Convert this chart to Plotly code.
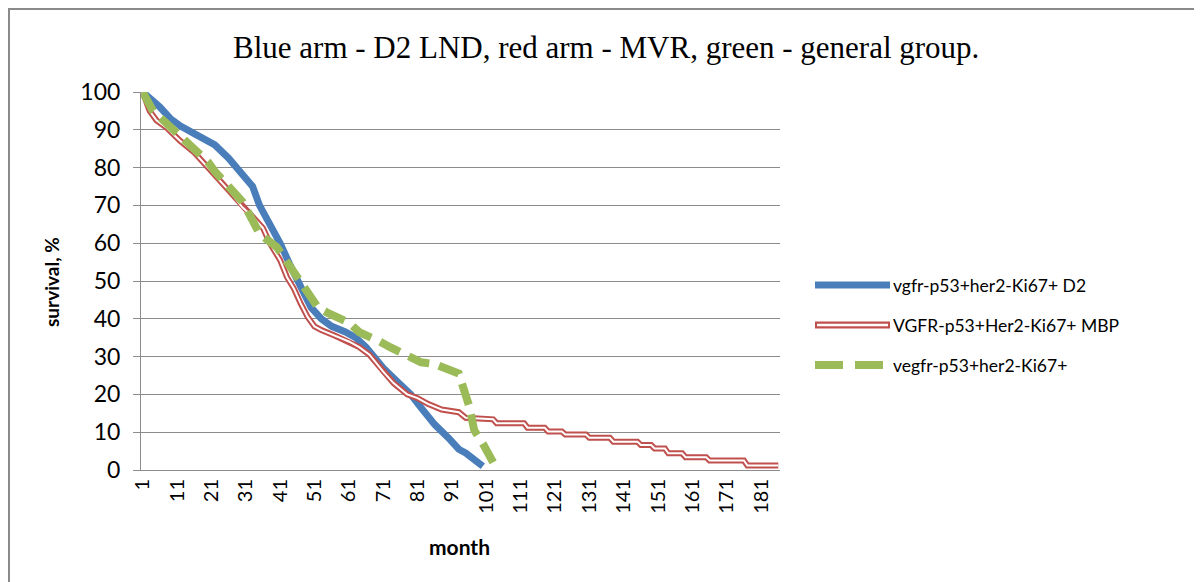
import plotly.graph_objects as go

# ---------------- data ----------------
blue_month = [1, 3, 6, 9, 12, 16, 19, 22, 26, 29, 31, 33, 35, 38, 41, 44, 46, 48, 50, 53,
              56, 60, 63, 66, 71, 75, 79, 82, 86, 90, 93, 95, 100]
blue_surv = [100, 98.5, 96, 93, 91, 89, 87.5, 86, 82.5, 79, 77, 75, 70, 65, 60, 54, 50, 46, 43, 40,
             38, 36.5, 35, 32.5, 27, 23.5, 20, 16.5, 12, 8.5, 5.5, 4.5, 1]

red_month = [1, 3, 5, 8, 12, 16, 20, 24, 27, 30, 33, 36, 38, 41, 43, 45, 47, 49, 51, 53,
             57, 61, 64, 67, 71, 74, 78, 81, 84, 88, 93, 95, 103, 104, 112, 113, 118, 119,
             123, 124, 130, 131, 137, 138, 145, 146, 149, 150, 153, 154, 158, 159, 165, 166,
             176, 177, 186]
red_surv = [100, 95, 92.5, 90.5, 87, 84, 80, 76, 73, 69.5, 67, 64, 60, 55.5, 51, 48, 44, 40.5, 38, 37,
            35.5, 34, 32.5, 30.5, 26, 23, 20, 19, 17.5, 16, 15.3, 13.8, 13.4, 12.4, 12.4, 11.2, 11.2, 10.2,
            10.2, 9.4, 9.4, 8.5, 8.5, 7.5, 7.5, 6.6, 6.6, 5.7, 5.7, 4.4, 4.4, 3.4, 3.4, 2.5,
            2.5, 1.2, 1.2]

green_month = [1, 4, 7, 12, 15, 20, 22, 27, 30, 33, 35, 40, 42, 46, 49, 52, 55, 58, 61, 64,
               67, 70, 73, 76, 79, 82, 86, 89, 93, 96, 97.5, 100, 103]
green_surv = [100, 95, 92.5, 88.5, 86, 81.5, 79, 74, 71, 66, 62.5, 59, 56, 51, 47, 43, 41.5, 40.5, 39, 36.5,
              35.5, 34, 32.5, 31, 29.5, 28.5, 28, 27, 25.5, 17, 10.5, 7, 2]

series_names = ["vgfr-p53+her2-Ki67+ D2", "VGFR-p53+Her2-Ki67+ MBP", "vegfr-p53+her2-Ki67+"]
x_tick_vals = list(range(1, 187, 10))
x_tick_text = [str(v) for v in x_tick_vals]
y_tick_vals = list(range(0, 101, 10))

title_text = "Blue arm - D2 LND, red arm - MVR, green - general group."
x_title = "month"
y_title = "survival, %"

# ---------------- styles ----------------
BLUE = "#4A7EBB"
RED = "#C0504D"
GREEN = "#9BBB59"
GRID = "#8C8C8C"
SANS = "Lato, 'Liberation Sans', sans-serif"

OFF = 8  # page body margin of the browser
W, H = 1202 - OFF, 582 - OFF
L, R, T, B = 141, 780, 92, 470  # plot area in screen pixels


def px(x):
    return (x - L) / (R - L)


def py(y):
    return (B - y) / (B - T)


fig = go.Figure()
fig.add_trace(go.Scatter(x=blue_month, y=blue_surv, mode="lines", name=series_names[0],
                         line=dict(color=BLUE, width=7), showlegend=False))
fig.add_trace(go.Scatter(x=red_month, y=red_surv, mode="lines", name=series_names[1],
                         line=dict(color=RED, width=6), showlegend=False))
fig.add_trace(go.Scatter(x=red_month, y=red_surv, mode="lines", name=series_names[1] + " (inner)",
                         line=dict(color="white", width=2), showlegend=False, hoverinfo="skip"))
fig.add_trace(go.Scatter(x=green_month, y=green_surv, mode="lines", name=series_names[2],
                         line=dict(color=GREEN, width=8, dash="22px,10px"), showlegend=False))

shapes = []
# chart border (right and bottom edges fall outside the picture)
shapes.append(dict(type="rect", xref="paper", yref="paper",
                   x0=px(9), x1=px(1215), y0=py(600), y1=py(9),
                   line=dict(color="#8A8A8A", width=2), fillcolor="rgba(0,0,0,0)", layer="below"))

# custom legend
leg_x0, leg_x1, leg_tx = 815, 890, 891
leg_y = [285, 325, 365]
shapes.append(dict(type="line", xref="paper", yref="paper", x0=px(leg_x0), x1=px(leg_x1),
                   y0=py(leg_y[0]), y1=py(leg_y[0]), line=dict(color=BLUE, width=7)))
shapes.append(dict(type="line", xref="paper", yref="paper", x0=px(leg_x0), x1=px(leg_x1),
                   y0=py(leg_y[1]), y1=py(leg_y[1]), line=dict(color=RED, width=7)))
shapes.append(dict(type="line", xref="paper", yref="paper", x0=px(leg_x0 + 2), x1=px(leg_x1 - 2),
                   y0=py(leg_y[1]), y1=py(leg_y[1]), line=dict(color="white", width=2.5)))
shapes.append(dict(type="line", xref="paper", yref="paper", x0=px(leg_x0), x1=px(leg_x1),
                   y0=py(leg_y[2]), y1=py(leg_y[2]), line=dict(color=GREEN, width=8, dash="28px,12px")))

annotations = [
    dict(text=title_text, xref="paper", yref="paper", x=px(606), y=py(48),
         xanchor="center", yanchor="middle", showarrow=False,
         font=dict(family="'Liberation Serif', 'Times New Roman', serif", size=31, color="#000000")),
    dict(text="<b>" + y_title + "</b>", xref="paper", yref="paper", x=px(51), y=py(282),
         xanchor="center", yanchor="middle", textangle=-90, showarrow=False,
         font=dict(family=SANS, size=19, color="#000000")),
    dict(text="<b>" + x_title + "</b>", xref="paper", yref="paper", x=px(459), y=py(546),
         xanchor="center", yanchor="middle", showarrow=False,
         font=dict(family=SANS, size=21, color="#000000")),
]
for name, yy in zip(series_names, leg_y):
    annotations.append(dict(text=name, xref="paper", yref="paper", x=px(leg_tx), y=py(yy),
                            xanchor="left", yanchor="middle", showarrow=False,
                            font=dict(family=SANS, size=17.5, color="#000000")))

fig.update_layout(
    width=W, height=H,
    margin=dict(l=L - OFF, r=W - (R - OFF), t=T - OFF, b=H - (B - OFF), pad=0),
    paper_bgcolor="white", plot_bgcolor="white",
    shapes=shapes, annotations=annotations,
    showlegend=False,
    xaxis=dict(range=[0.5, 186.5], tickmode="array", tickvals=x_tick_vals, ticktext=x_tick_text,
               tickangle=-90, showgrid=False, zeroline=False, showline=True, linecolor=GRID,
               linewidth=1, ticks="", tickfont=dict(family=SANS, size=20, color="#000000")),
    yaxis=dict(range=[0, 100], tickmode="array", tickvals=y_tick_vals, showgrid=True,
               gridcolor=GRID, gridwidth=1, zeroline=False, showline=True, linecolor=GRID,
               linewidth=1, ticks="outside", ticklen=7, tickcolor=GRID, ticklabelstandoff=8,
               tickfont=dict(family=SANS, size=23, color="#000000")),
)

fig.write_html("out.html")
